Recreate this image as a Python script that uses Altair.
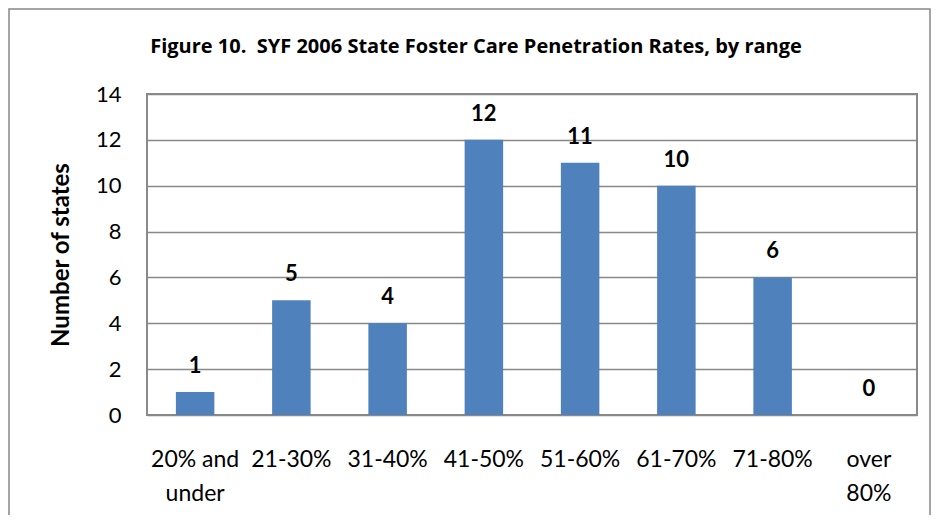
import altair as alt
import pandas as pd

categories = ["20% and under", "21-30%", "31-40%", "41-50%", "51-60%", "61-70%", "71-80%", "over 80%"]
counts = [1, 5, 4, 12, 11, 10, 6, 0]
title_text = "Figure 10.\u00a0\u00a0SYF 2006 State Foster Care Penetration Rates, by range"

df = pd.DataFrame({"range": categories, "states": counts})

FONT = "Lato"
GRID = "#898989"

x_enc = alt.X(
    "range:N",
    sort=categories,
    scale=alt.Scale(paddingInner=0.6, paddingOuter=0.3),
    axis=alt.Axis(
        title=None,
        labelAngle=0,
        ticks=False,
        labelPadding=44,
        labelFontSize=23,
        labelFont=FONT,
        labelColor="#000000",
        labelLineHeight=34,
        labelBaseline="middle",
        domain=False,
        labelExpr="datum.value == '20% and under' ? ['20% and', 'under'] : datum.value == 'over 80%' ? ['over', '80%'] : datum.value",
    ),
)
y_enc = alt.Y(
    "states:Q",
    scale=alt.Scale(domain=[0, 14]),
    axis=alt.Axis(
        title="Number of states",
        values=[0, 2, 4, 6, 8, 10, 12, 14],
        ticks=False,
        labelPadding=26,
        labelFontSize=22,
        labelFont=FONT,
        labelColor="#000000",
        titleFontSize=24,
        titleFont=FONT,
        titleFontWeight="bold",
        titleColor="#000000",
        titlePadding=22,
        gridColor=GRID,
        gridWidth=1.5,
        gridOpacity=1,
        domain=False,
    ),
)

bars = alt.Chart(df).mark_bar(color="#4F81BD").encode(x=x_enc, y=y_enc)

labels = alt.Chart(df).mark_text(
    fontWeight="bold", fontSize=22, font=FONT, baseline="bottom", dy=-14, color="#000000"
).encode(
    x=alt.X("range:N", sort=categories),
    y=alt.Y("states:Q"),
    text=alt.Text("states:Q"),
)

deco = pd.DataFrame({"t": [title_text]})

frame = alt.Chart(deco).mark_rect(
    fill=None, stroke="#868686", strokeWidth=1.5, clip=False
).encode(
    x=alt.value(-138), x2=alt.value(783), y=alt.value(-85), y2=alt.value(600)
)

title = alt.Chart(deco).mark_text(
    fontSize=20, font="Open Sans", fontWeight="bold", color="#000000", align="center", baseline="alphabetic", clip=False
).encode(
    x=alt.value(329), y=alt.value(-41), text="t:N"
)

chart = alt.layer(bars, labels, frame, title).properties(
    width=770,
    height=321,
    padding={"left": 139, "top": 86, "right": 14, "bottom": 100},
    autosize=alt.AutoSizeParams(type="none"),
).configure_view(stroke=GRID, strokeWidth=2)

chart.save("out.html", embed_options={"renderer": "svg", "actions": False})
